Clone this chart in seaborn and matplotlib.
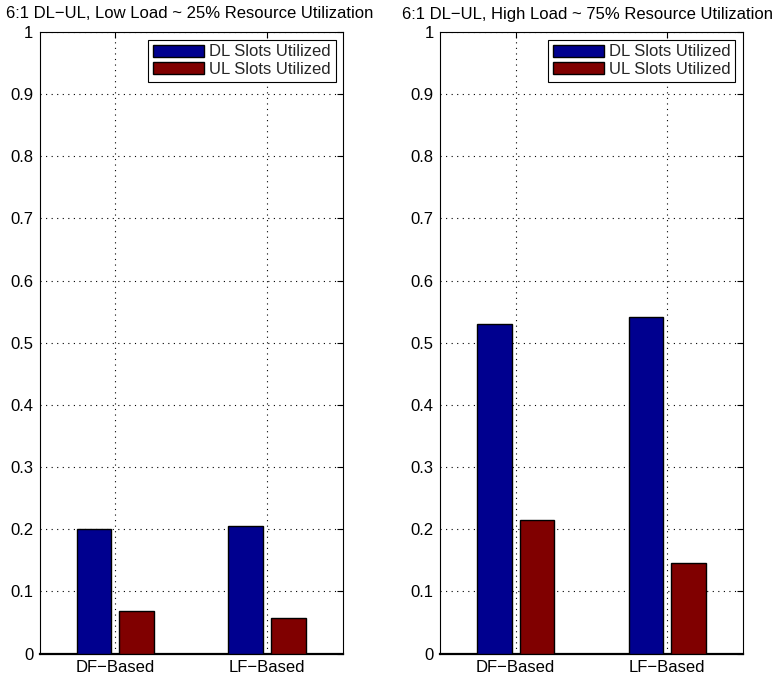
import matplotlib
matplotlib.use("Agg")
import matplotlib.pyplot as plt
import seaborn as sns
import pandas as pd

categories = ["DF\u2212Based", "LF\u2212Based"]
series = ["DL Slots Utilized", "UL Slots Utilized"]
low_dl = [0.200, 0.205]
low_ul = [0.068, 0.057]
high_dl = [0.530, 0.541]
high_ul = [0.215, 0.145]
titles = ["6:1 DL\u2212UL, Low Load ~ 25% Resource Utilization",
          "6:1 DL\u2212UL, High Load ~ 75% Resource Utilization"]
yticks = [0, 0.1, 0.2, 0.3, 0.4, 0.5, 0.6, 0.7, 0.8, 0.9, 1]
ytick_labels = ["0", "0.1", "0.2", "0.3", "0.4", "0.5", "0.6", "0.7", "0.8", "0.9", "1"]

sns.set_style("white")
plt.rcParams["font.family"] = ["Liberation Sans", "DejaVu Sans"]

W, H = 779, 680
fig = plt.figure(figsize=(W / 100, H / 100), dpi=100)

def make_df(dl, ul):
    rows = []
    for c, v in zip(categories, dl):
        rows.append({"cat": c, "series": series[0], "val": v})
    for c, v in zip(categories, ul):
        rows.append({"cat": c, "series": series[1], "val": v})
    return pd.DataFrame(rows)

palette = {series[0]: "#00008F", series[1]: "#800000"}
axes_px = [(39.5, 343.0), (440.0, 743.0)]
top_px, bot_px = 32.0, 653.5
title_x = [190, 588]
FS = 12

for i, (dl, ul) in enumerate([(low_dl, low_ul), (high_dl, high_ul)]):
    x0, x1 = axes_px[i]
    ax = fig.add_axes([x0 / W, (H - bot_px) / H, (x1 - x0) / W, (bot_px - top_px) / H])
    df = make_df(dl, ul)
    sns.barplot(data=df, x="cat", y="val", hue="series", palette=palette,
                width=0.564, gap=0.19, edgecolor="black", linewidth=1.0,
                saturation=1, ax=ax, zorder=3)
    ax.set_xlim(-0.5, 1.5)
    ax.set_ylim(0, 1)
    ax.set_yticks(yticks)
    ax.set_yticklabels(ytick_labels)
    ax.set_xlabel("")
    ax.set_ylabel("")
    ax.grid(True, color="black", linestyle=(0, (1, 4)), linewidth=0.8)
    ax.set_axisbelow(True)
    ax.tick_params(direction="in", length=4, width=0.8, top=True, right=True,
                   labelsize=FS, color="black", labelcolor="black")
    ax.tick_params(axis="y", pad=4.5)
    ax.tick_params(axis="x", pad=5)
    for s in ax.spines.values():
        s.set_visible(True)
        s.set_color("black")
        s.set_linewidth(0.8)
    ax.spines["bottom"].set_linewidth(1.6)
    leg = ax.legend(loc="upper right", fontsize=FS, frameon=True, fancybox=False,
                    edgecolor="black", framealpha=1, borderaxespad=0.45,
                    handlelength=3.05, handleheight=0.72, handletextpad=0.3,
                    borderpad=0.3, labelspacing=0.15)
    leg.get_frame().set_linewidth(0.8)
    fig.text(title_x[i] / W, 1 - 14 / H, titles[i], ha="center", va="center",
             fontsize=FS, color="black")

fig.savefig("out.png", dpi=100)
